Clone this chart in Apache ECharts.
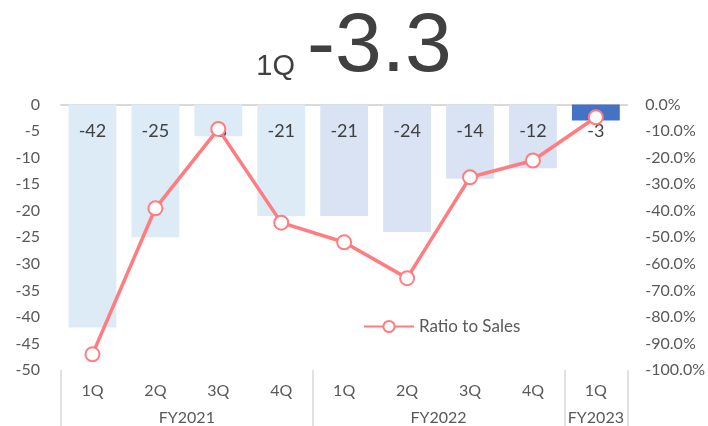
<!DOCTYPE html>
<html>
<head>
<meta charset="utf-8">
<script src="https://cdn.jsdelivr.net/npm/echarts@6/dist/echarts.min.js"></script>
<style>
  html, body { margin: 0; padding: 0; background: #fff; }
  #chart { width: 708px; height: 426px; }
</style>
</head>
<body>
<div id="chart"></div>
<script>
// Quarterly operating result (bars, left axis) and its ratio to sales (line, right axis)
const quarters = ['1Q', '2Q', '3Q', '4Q', '1Q', '2Q', '3Q', '4Q', '1Q'];
const fiscalYears = ['FY2021', 'FY2022', 'FY2023'];
const yearOfQuarter = [0, 0, 0, 0, 1, 1, 1, 1, 2];
const operatingResult = [-42, -25, -6, -21, -21, -24, -14, -12, -3];
const ratioToSales = [-94.1, -39.1, -9.2, -44.5, -51.9, -65.4, -27.4, -21.1, -4.8];
const leftTicks = { min: -50, max: 0, step: 5 };
const rightTicks = { min: -100, max: 0, step: 10 };
const headline = { period: '1Q', value: '-3.3' };

// Year-group boundaries and label centres on a 0..9 quarter scale
const groupEdges = [0, 4, 8, 9];
const groupCentres = [2, 6, 8.5];

const yearColors = ['#DDEBF7', '#DAE3F3', '#4472C4'];
const lineColor = '#FF7C80';
const axisText = '#595959';
const font = 'Lato, "Open Sans", sans-serif';

const chart = echarts.init(document.getElementById('chart'), null, { renderer: 'canvas' });

chart.setOption({
  animation: false,
  backgroundColor: '#ffffff',
  title: {
    text: '{p|' + headline.period + '}{v|' + headline.value + '}',
    left: 'center',
    top: 1,
    textStyle: {
      fontWeight: 'normal',
      rich: {
        p: { fontSize: 29, fontWeight: 'normal', color: '#404040', fontFamily: '"Liberation Sans", Arial, sans-serif', verticalAlign: 'bottom', padding: [0, 12, 9, 0] },
        v: { fontSize: 84, fontWeight: 'normal', color: '#404040', fontFamily: '"Liberation Sans", Arial, sans-serif', verticalAlign: 'bottom' }
      }
    }
  },
  legend: {
    data: ['Ratio to Sales'],
    left: 358,
    top: 313,
    itemWidth: 50,
    itemHeight: 14,
    itemGap: 6,
    textStyle: { color: axisText, fontSize: 17, fontFamily: font }
  },
  grid: { left: 61, right: 76, top: 104.5, bottom: 54, containLabel: false },
  xAxis: [
    {
      type: 'category',
      data: quarters,
      position: 'bottom',
      axisLine: { show: false, onZero: false },
      axisTick: { show: false },
      axisLabel: { color: axisText, fontSize: 16, fontFamily: font, margin: 13 }
    },
    {
      type: 'value',
      min: 0,
      max: quarters.length,
      position: 'bottom',
      splitLine: { show: false },
      axisLine: { show: false, onZero: false },
      axisTick: {
        show: true,
        customValues: groupEdges,
        length: 56,
        inside: false,
        lineStyle: { color: '#D9D9D9', width: 1.5 }
      },
      axisLabel: {
        customValues: groupCentres,
        margin: 40,
        color: axisText,
        fontSize: 16,
        fontFamily: font,
        formatter: function (v) {
          const i = groupCentres.indexOf(v);
          return i >= 0 ? fiscalYears[i] : '';
        }
      }
    },
    {
      // zero line along the top of the plot
      type: 'category',
      data: quarters,
      position: 'top',
      axisLine: { show: true, onZero: false, lineStyle: { color: '#D9D9D9', width: 2 } },
      axisTick: { show: false },
      axisLabel: { show: false }
    }
  ],
  yAxis: [
    {
      type: 'value',
      min: leftTicks.min,
      max: leftTicks.max,
      interval: leftTicks.step,
      position: 'left',
      splitLine: { show: false },
      axisLine: { show: false, onZero: false },
      axisTick: { show: false },
      axisLabel: { color: axisText, fontSize: 16, fontFamily: font, margin: 21 }
    },
    {
      type: 'value',
      min: rightTicks.min,
      max: rightTicks.max,
      interval: rightTicks.step,
      position: 'right',
      splitLine: { show: false },
      axisLine: { show: false, onZero: false },
      axisTick: { show: false },
      axisLabel: {
        color: axisText, fontSize: 16, fontFamily: font, margin: 18,
        formatter: function (v) { return v.toFixed(1) + '%'; }
      }
    }
  ],
  series: [
    {
      name: 'Operating Result',
      type: 'bar',
      xAxisIndex: 0,
      yAxisIndex: 0,
      barWidth: '76%',
      data: operatingResult.map(function (v, i) {
        return { value: v, itemStyle: { color: yearColors[yearOfQuarter[i]] } };
      }),
      label: {
        show: true,
        position: 'insideTop',
        distance: 18,
        color: '#404040',
        fontSize: 18,
        fontFamily: font
      },
      z: 2
    },
    {
      name: 'Ratio to Sales',
      type: 'line',
      xAxisIndex: 0,
      yAxisIndex: 1,
      data: ratioToSales,
      symbol: 'circle',
      symbolSize: 14,
      lineStyle: { color: lineColor, width: 3.5 },
      itemStyle: { color: '#ffffff', borderColor: lineColor, borderWidth: 2 },
      z: 5
    }
  ]
});
</script>
</body>
</html>
